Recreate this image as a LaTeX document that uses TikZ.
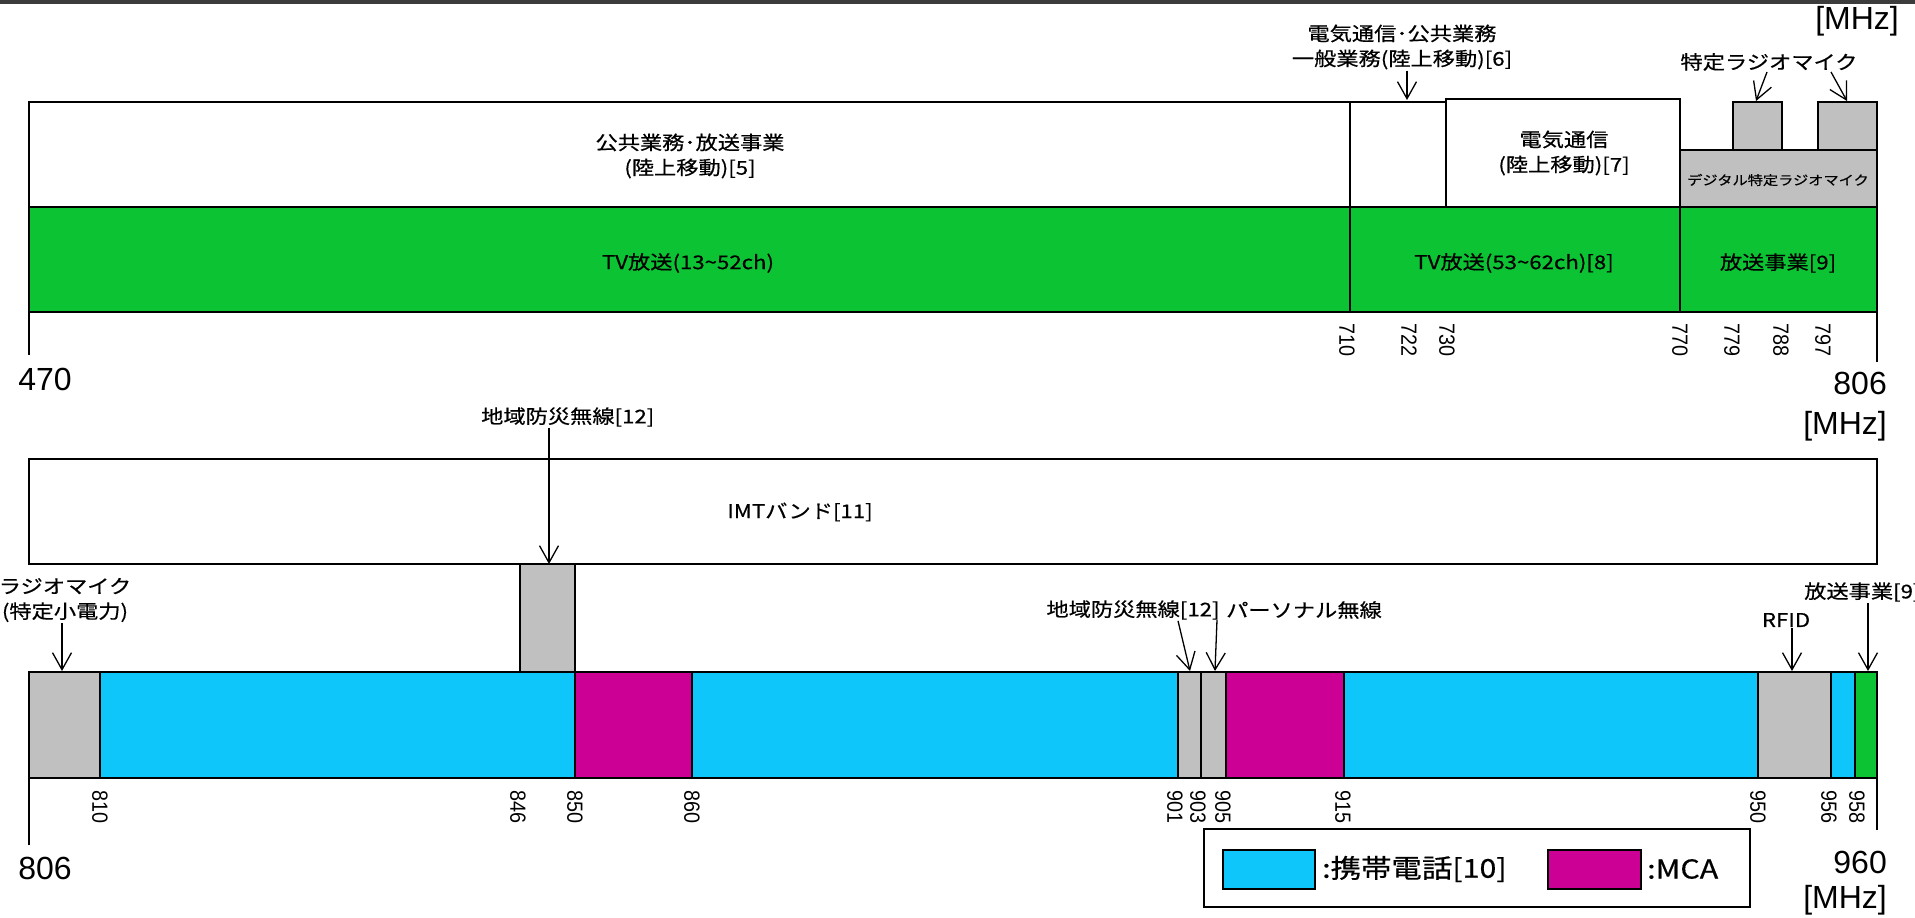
\documentclass[tikz,border=0pt]{standalone}
\usepackage{fontspec}
\usetikzlibrary{arrows.meta}
\setmainfont{Liberation Sans}
\newfontfamily\jpfont[FakeStretch=1.17, FakeBold=0.5]{Noto Sans CJK JP}
\newfontfamily\tickfont[FakeStretch=0.9]{Liberation Sans}
\definecolor{tvgreen}{RGB}{12,196,51}
\definecolor{cellcyan}{RGB}{15,198,250}
\definecolor{mcamag}{RGB}{204,0,148}
\definecolor{micgray}{RGB}{192,192,192}
\definecolor{topdark}{RGB}{60,60,60}

\begin{document}
\begin{tikzpicture}[x=1pt, y=-1pt]
 \tikzstyle{band}=[draw=black, line width=1.5pt]
 \tikzstyle{lbl}=[font=\jpfont\fontsize{19}{25}\selectfont, align=center, inner sep=1pt]
 \tikzstyle{small}=[font=\jpfont\fontsize{13}{15}\selectfont, inner sep=1pt]
 \tikzstyle{legtext}=[font=\jpfont\fontsize{26}{30}\selectfont, anchor=west, inner sep=0pt]
 \tikzstyle{freqtick}=[font=\tickfont\fontsize{22}{22}\selectfont, rotate=-90, anchor=west, inner sep=0pt]
 \tikzstyle{freq}=[font=\fontsize{32}{34}\selectfont, inner sep=0pt]
 \tikzstyle{axis}=[line width=1.5pt]
 \tikzstyle{pointer}=[-{Straight Barb[length=17pt,width=19pt]}, line width=1.3pt]
 %
 \fill[white] (0,0) rectangle (1915,918);
 \fill[topdark] (0,0) rectangle (1915,4);
 \useasboundingbox (0,0) rectangle (1915,918);
 %% 470-806 MHz
 \draw[band] (29,102) rectangle (1350,207);
 \draw[band] (1350,102) rectangle (1446,207);
 \draw[band] (1446,99) rectangle (1680,207);
 \draw[band, fill=micgray] (1680,150) rectangle (1877,207);
 \draw[band, fill=micgray] (1733,102) rectangle (1782,150);
 \draw[band, fill=micgray] (1818,102) rectangle (1877,150);
 \draw[band, fill=tvgreen] (29,207) rectangle (1350,312);
 \draw[band, fill=tvgreen] (1350,207) rectangle (1680,312);
 \draw[band, fill=tvgreen] (1680,207) rectangle (1877,312);
 \draw[axis] (29,312) -- (29,355);
 \draw[axis] (1877,312) -- (1877,362);
 %
 \node[lbl] (L5) at (690,156) {公共業務･放送事業\\(陸上移動)[5]};
 \node[lbl] (L7) at (1564,153) {電気通信\\(陸上移動)[7]};
 \node[lbl] (L6) at (1402,47) {電気通信･公共業務\\一般業務(陸上移動)[6]};
 \node[lbl] (Lmic) at (1769,62) {特定ラジオマイク};
 \node[small] (Ldig) at (1778,180) {デジタル特定ラジオマイク};
 \node[lbl] (Ltv1) at (688,263) {TV放送(13\textasciitilde52ch)};
 \node[lbl] (Ltv2) at (1514,263) {TV放送(53\textasciitilde62ch)[8]};
 \node[lbl] (L9) at (1778,263) {放送事業[9]};
 %
 \coordinate (t722) at (1407,100);
 \coordinate (t779) at (1756,101);
 \coordinate (t797) at (1847,101);
 \draw[pointer] (t722 |- L6.south) -- (t722);
 \draw[pointer] ([xshift=-2pt]Lmic.south) -- (t779);
 \draw[pointer] ([xshift=62pt]Lmic.south) -- (t797);
 %
 \node[freqtick] (k710) at (1347,323) {710};
 \node[freqtick] (k722) at (1409,323) {722};
 \node[freqtick] (k730) at (1447,323) {730};
 \node[freqtick] (k770) at (1680,323) {770};
 \node[freqtick] (k779) at (1732,323) {779};
 \node[freqtick] (k788) at (1781,323) {788};
 \node[freqtick] (k797) at (1823,323) {797};
 \node[freq] (f470) at (45,379) {470};
 \node[freq, anchor=east] (f806a) at (1887,383) {806};
 \node[freq, anchor=east] (mhzA) at (1887,426) {[MHz]};
 \node[freq, anchor=east] (mhzT) at (1899,21) {[MHz]};
 %% 806-960 MHz
 \draw[band] (29,459) rectangle (1877,564);
 \draw[band, fill=micgray] (520,564) rectangle (575,672);
 \draw[band, fill=micgray] (29,672) rectangle (100,778);
 \draw[band, fill=cellcyan] (100,672) rectangle (575,778);
 \draw[band, fill=mcamag] (575,672) rectangle (692,778);
 \draw[band, fill=cellcyan] (692,672) rectangle (1178,778);
 \draw[band, fill=micgray] (1178,672) rectangle (1201,778);
 \draw[band, fill=micgray] (1201,672) rectangle (1226,778);
 \draw[band, fill=mcamag] (1226,672) rectangle (1344,778);
 \draw[band, fill=cellcyan] (1344,672) rectangle (1758,778);
 \draw[band, fill=micgray] (1758,672) rectangle (1831,778);
 \draw[band, fill=cellcyan] (1831,672) rectangle (1855,778);
 \draw[band, fill=tvgreen] (1855,672) rectangle (1877,778);
 \draw[axis] (29,778) -- (29,845);
 \draw[axis] (1877,778) -- (1877,830);
 %
 \node[lbl, anchor=west] (L12a) at (480,417) {地域防災無線[12]};
 \node[lbl] (L11) at (800,512) {IMTバンド[11]};
 \node[lbl] (Lradio) at (65,600) {ラジオマイク\\(特定小電力)};
 \node[lbl] (L12b) at (1133,610) {地域防災無線[12]};
 \node[lbl] (Lpers) at (1304,610) {パーソナル無線};
 \node[lbl] (Lrfid) at (1786,620) {RFID};
 \node[lbl, anchor=west] (L9b) at (1803,592) {放送事業[9]};
 %
 \coordinate (t846) at (549,564);
 \coordinate (t806) at (62,671);
 \coordinate (t901) at (1190,671);
 \coordinate (t903) at (1215,671);
 \coordinate (t950) at (1792,671);
 \coordinate (t958) at (1868,671);
 \draw[pointer] (t846 |- L12a.south) -- (t846);
 \draw[pointer] (t806 |- Lradio.south) -- (t806);
 \draw[pointer] ([xshift=45pt]L12b.south) -- (t901);
 \draw[pointer] ([xshift=-8pt]Lpers.south west) -- (t903);
 \draw[pointer] (t950 |- Lrfid.south) -- (t950);
 \draw[pointer] (t958 |- L9b.south) -- (t958);
 %
 \node[freqtick] (k810) at (100,790) {810};
 \node[freqtick] (k846) at (518,790) {846};
 \node[freqtick] (k850) at (575,790) {850};
 \node[freqtick] (k860) at (692,790) {860};
 \node[freqtick] (k901) at (1175,790) {901};
 \node[freqtick] (k903) at (1198,790) {903};
 \node[freqtick] (k905) at (1223,790) {905};
 \node[freqtick] (k915) at (1343,790) {915};
 \node[freqtick] (k950) at (1758,790) {950};
 \node[freqtick] (k956) at (1829,790) {956};
 \node[freqtick] (k958) at (1857,790) {958};
 \node[freq] (f806b) at (45,868) {806};
 \node[freq, anchor=east] (f960) at (1887,862) {960};
 \node[freq, anchor=east] (mhzB) at (1887,900) {[MHz]};
 %% legend
 \draw[band] (1204,829) rectangle (1750,907);
 \draw[band, fill=cellcyan] (1223,850) rectangle (1315,889);
 \draw[band, fill=mcamag] (1548,850) rectangle (1641,889);
 \node[legtext] (Lcell) at (1322,869) {:携帯電話[10]};
 \node[legtext] (Lmca) at (1647,869) {:MCA};
\end{tikzpicture}
\end{document}
